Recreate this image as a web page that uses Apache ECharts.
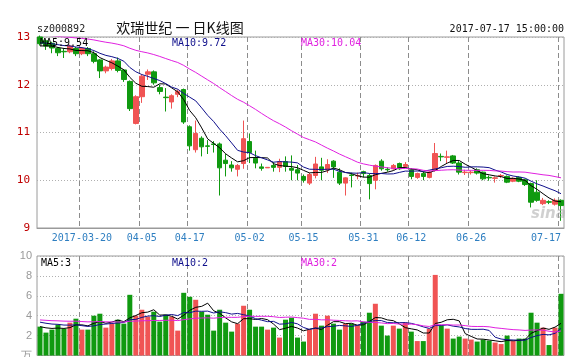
<!DOCTYPE html>
<html>
<head>
<meta charset="utf-8">
<script src="https://cdn.jsdelivr.net/npm/echarts@6/dist/echarts.min.js"></script>
<style>
html,body{margin:0;padding:0;background:#fff;}
#chart{width:566px;height:357px;}
</style>
</head>
<body>
<div id="chart"></div>
<script>
// ---- data ----
const dates = [
 '2017-03-09','2017-03-10','2017-03-13','2017-03-14','2017-03-15','2017-03-16','2017-03-17','2017-03-20','2017-03-21','2017-03-22',
 '2017-03-23','2017-03-24','2017-03-27','2017-03-28','2017-03-29','2017-03-30','2017-03-31','2017-04-05','2017-04-06','2017-04-07',
 '2017-04-10','2017-04-11','2017-04-12','2017-04-13','2017-04-14','2017-04-17','2017-04-18','2017-04-19','2017-04-20','2017-04-21',
 '2017-04-24','2017-04-25','2017-04-26','2017-04-27','2017-04-28','2017-05-02','2017-05-03','2017-05-04','2017-05-05','2017-05-08',
 '2017-05-09','2017-05-10','2017-05-11','2017-05-12','2017-05-15','2017-05-16','2017-05-17','2017-05-18','2017-05-19','2017-05-22',
 '2017-05-23','2017-05-24','2017-05-25','2017-05-26','2017-05-31','2017-06-01','2017-06-02','2017-06-05','2017-06-06','2017-06-07',
 '2017-06-08','2017-06-09','2017-06-12','2017-06-13','2017-06-14','2017-06-15','2017-06-16','2017-06-19','2017-06-20','2017-06-21',
 '2017-06-22','2017-06-23','2017-06-26','2017-06-27','2017-06-28','2017-06-29','2017-06-30','2017-07-03','2017-07-04','2017-07-05',
 '2017-07-06','2017-07-07','2017-07-10','2017-07-11','2017-07-12','2017-07-13','2017-07-14','2017-07-17'
];
const opens = [
 13.00,12.92,12.87,12.76,12.70,12.69,12.76,12.65,12.76,12.65,
 12.52,12.29,12.34,12.50,12.31,12.07,11.19,11.75,12.22,12.27,
 11.94,11.74,11.64,11.80,11.90,11.12,10.64,10.88,10.72,10.76,
 10.76,10.42,10.32,10.23,10.35,10.81,10.46,10.28,10.26,10.31,
 10.27,10.39,10.25,10.22,10.08,9.94,10.10,10.28,10.22,10.40,
 10.17,9.94,10.11,10.09,10.18,10.10,10.00,10.40,10.23,10.24,
 10.35,10.29,10.22,10.06,10.14,10.06,10.21,10.50,10.48,10.51,
 10.36,10.16,10.16,10.22,10.17,10.06,10.04,10.09,10.08,9.98,
 10.06,10.01,9.93,9.75,9.51,9.55,9.50,9.58
];
const closes = [
 12.86,12.81,12.77,12.67,12.69,12.81,12.65,12.76,12.65,12.49,
 12.29,12.37,12.50,12.30,12.11,11.50,11.75,12.18,12.27,12.04,
 11.86,11.73,11.77,11.86,11.22,10.72,10.98,10.70,10.71,10.75,
 10.26,10.35,10.26,10.31,10.87,10.58,10.36,10.25,10.27,10.27,
 10.39,10.29,10.21,10.15,10.00,10.12,10.34,10.21,10.33,10.28,
 9.94,10.05,10.10,10.10,10.14,9.93,10.31,10.24,10.22,10.31,
 10.24,10.33,10.08,10.14,10.08,10.17,10.56,10.49,10.49,10.36,
 10.17,10.17,10.17,10.15,10.03,10.05,10.05,10.10,9.96,10.04,
 9.98,9.91,9.54,9.58,9.58,9.54,9.58,9.47
];
const lows = [
 12.82,12.73,12.66,12.60,12.56,12.66,12.60,12.62,12.60,12.45,
 12.14,12.24,12.30,12.26,12.06,11.45,11.17,11.62,12.10,12.00,
 11.80,11.44,11.50,11.74,11.18,10.62,10.58,10.50,10.55,10.58,
 9.68,10.08,10.18,10.08,10.24,10.36,10.25,10.20,10.26,10.18,
 10.17,10.18,10.00,10.00,9.95,9.90,10.04,10.00,10.15,10.05,
 9.90,9.68,9.85,10.02,10.06,9.60,9.81,10.20,10.18,10.22,
 10.22,10.26,10.02,10.03,10.00,10.04,10.18,10.40,10.36,10.34,
 10.12,10.11,10.12,10.12,10.00,9.99,9.95,10.05,9.94,9.96,
 9.96,9.88,9.43,9.55,9.48,9.50,9.47,9.15
];
const highs = [
 13.03,12.95,12.90,12.79,12.77,12.84,12.79,12.79,12.79,12.70,
 12.54,12.40,12.54,12.57,12.33,12.09,11.78,12.22,12.32,12.30,
 12.00,11.93,11.80,11.90,11.92,11.15,11.25,10.92,10.84,10.82,
 10.79,10.55,10.40,10.34,11.25,10.98,10.62,10.35,10.27,10.38,
 10.45,10.50,10.52,10.32,10.12,10.16,10.49,10.47,10.44,10.42,
 10.25,10.06,10.16,10.16,10.20,10.14,10.33,10.44,10.27,10.34,
 10.37,10.38,10.25,10.16,10.18,10.19,10.78,10.56,10.62,10.53,
 10.40,10.22,10.20,10.25,10.18,10.10,10.08,10.13,10.10,10.06,
 10.08,10.03,9.95,10.00,9.63,9.58,9.62,9.60
];
// volume, in 万 (10k)
const volumes = [
 2.9,2.3,2.6,3.1,2.7,3.3,3.7,2.6,2.6,4.0,
 4.2,2.8,3.2,3.6,3.2,6.1,4.0,4.6,3.9,4.4,
 3.4,4.1,3.9,2.5,6.3,5.9,5.6,4.4,4.1,2.5,
 4.6,3.3,2.4,3.2,5.0,4.6,2.9,2.9,2.6,2.8,
 1.8,3.6,3.8,1.8,1.4,2.6,4.2,3.0,4.0,3.2,
 2.6,3.2,3.2,3.0,3.4,4.3,5.2,3.0,2.0,3.0,
 2.7,3.3,2.4,1.45,1.45,2.7,8.1,3.0,2.7,1.7,
 1.9,1.7,1.6,1.4,1.6,1.5,1.3,1.15,2.0,1.45,
 1.7,1.7,4.3,3.3,2.8,1.05,2.8,6.2
];
// dates shown as x-axis labels
const labelDates = ['2017-03-20','2017-04-05','2017-04-17','2017-05-02','2017-05-15','2017-05-31','2017-06-12','2017-06-26','2017-07-17'];
// moving-average periods and the levels the MA lines start from at the left edge
const maPeriods = [5, 10, 30];
const priceMaStart = [12.80, 12.88, 13.05];
const volMaStart = [2.9, 3.4, 3.6];
const priceMaLabels = ['MA5:9.54', 'MA10:9.72', 'MA30:10.04'];
const volMaLabels = ['MA5:3', 'MA10:2', 'MA30:2'];
const priceTicks = {min: 9, max: 13, interval: 1};
const volTicks = {min: 0, max: 10, interval: 2};
const stockCode = 'sz000892';
const chartTitle = '欢瑞世纪 一 日K线图';
const timeStamp = '2017-07-17 15:00:00';

// ---- chart ----
const UP = '#f05454', DOWN = '#109a10';
const maColors = ['#000000', '#10108c', '#e020e0'];
const MONO = '"DejaVu Sans Mono", "Liberation Mono", monospace';
const DATE_LINE = '#8c8c8c';

function movingAvg(arr, n, start) {
  return arr.map(function (_, i) {
    let s = 0;
    for (let j = i - n + 1; j <= i; j++) s += (j >= 0 ? arr[j] : start);
    return +(s / n).toFixed(4);
  });
}

const isLabelIdx = function (index) { return labelDates.indexOf(dates[index]) >= 0; };
const labelIdx = labelDates.map(function (d) { return dates.indexOf(d); });

const kData = dates.map(function (d, i) { return [opens[i], closes[i], lows[i], highs[i]]; });

// vertical dashed date lines at the left edge of each labelled day's slot
function dateLines(xAxisIndex, yAxisIndex, ticks) {
  return {
    type: 'custom', xAxisIndex: xAxisIndex, yAxisIndex: yAxisIndex, silent: true, z: 1, clip: false,
    data: labelIdx.map(function (k) { return [k, ticks.min]; }),
    renderItem: function (params, api) {
      const p = api.coord([api.value(0), ticks.min]);
      const band = api.size([1, 0])[0];
      const x = Math.round(p[0] - band / 2) + 0.5;
      const cs = params.coordSys;
      return {
        type: 'line',
        shape: {x1: x, y1: cs.y, x2: x, y2: cs.y + cs.height},
        style: {stroke: DATE_LINE, lineWidth: 1, lineDash: [5, 3]}
      };
    }
  };
}

const series = [dateLines(0, 0, priceTicks), dateLines(1, 1, volTicks), {
  type: 'candlestick', xAxisIndex: 0, yAxisIndex: 0, data: kData, barWidth: 5, z: 3,
  itemStyle: {color: UP, color0: DOWN, borderColor: UP, borderColor0: DOWN, borderWidth: 1}
}];
maPeriods.forEach(function (p, m) {
  series.push({type: 'line', xAxisIndex: 0, yAxisIndex: 0, data: movingAvg(closes, p, priceMaStart[m]),
    showSymbol: false, symbol: 'none', lineStyle: {width: 1, color: maColors[m]}, z: 5});
});
series.push({
  type: 'bar', xAxisIndex: 1, yAxisIndex: 1, barWidth: 5, z: 3,
  data: volumes.map(function (v, i) {
    return {value: v, itemStyle: {color: closes[i] >= opens[i] ? UP : DOWN}};
  })
});
maPeriods.forEach(function (p, m) {
  series.push({type: 'line', xAxisIndex: 1, yAxisIndex: 1, data: movingAvg(volumes, p, volMaStart[m]),
    showSymbol: false, symbol: 'none', lineStyle: {width: 1, color: maColors[m]}, z: 5});
});

const dottedSplit = {show: true, lineStyle: {color: '#b0b0b0', type: [1, 2], width: 1}};

function txt(x, y, text, fill, font, align) {
  return {type: 'text', x: x, y: y, z: 100, silent: true,
    style: {text: text, fill: fill, font: font, textAlign: align || 'left', textVerticalAlign: 'middle'}};
}

const graphics = [
  txt(37, 29, stockCode, '#222', '10px ' + MONO),
  txt(180, 28, chartTitle, '#111', '14px "Noto Sans CJK SC", sans-serif', 'center'),
  txt(564, 29, timeStamp, '#111', '10px ' + MONO, 'right'),
  txt(40, 43, priceMaLabels[0], maColors[0], '10px ' + MONO),
  txt(172, 43, priceMaLabels[1], maColors[1], '10px ' + MONO),
  txt(301, 43, priceMaLabels[2], maColors[2], '10px ' + MONO),
  txt(41, 263, volMaLabels[0], maColors[0], '10px ' + MONO),
  txt(172, 263, volMaLabels[1], maColors[1], '10px ' + MONO),
  txt(301, 263, volMaLabels[2], maColors[2], '10px ' + MONO),
  txt(531, 214, 'sina', 'rgba(170,170,170,0.55)', 'italic bold 15px "DejaVu Sans", sans-serif')
];

const chart = echarts.init(document.getElementById('chart'), null, {renderer: 'canvas'});
chart.setOption({
  animation: false,
  backgroundColor: '#ffffff',
  grid: [
    {left: 37, top: 37, width: 527, height: 191, show: true, borderColor: '#9a9a9a', borderWidth: 1,
      backgroundColor: 'transparent', containLabel: false, outerBoundsMode: 'none'},
    {left: 37, top: 256, width: 527, height: 99.5, show: true, borderColor: '#9a9a9a', borderWidth: 1,
      backgroundColor: 'transparent', containLabel: false, outerBoundsMode: 'none'}
  ],
  xAxis: [
    {type: 'category', gridIndex: 0, data: dates, boundaryGap: true,
      axisLine: {show: true, lineStyle: {color: '#9a9a9a'}}, axisTick: {show: false},
      axisLabel: {show: true, interval: isLabelIdx, margin: 5, color: '#2f7fc1', fontFamily: MONO, fontSize: 10,
        hideOverlap: false, alignMaxLabel: 'right',
        formatter: function (v) { return v === labelDates[0] ? v : v.slice(5); }},
      splitLine: {show: false}},
    {type: 'category', gridIndex: 1, data: dates, boundaryGap: true,
      axisLine: {show: false}, axisTick: {show: false}, axisLabel: {show: false},
      splitLine: {show: false}}
  ],
  yAxis: [
    {type: 'value', gridIndex: 0, min: priceTicks.min, max: priceTicks.max, interval: priceTicks.interval,
      axisLine: {show: false}, axisTick: {show: false},
      axisLabel: {color: '#c00000', fontFamily: MONO, fontSize: 11, margin: 7},
      splitLine: dottedSplit},
    {type: 'value', gridIndex: 1, min: volTicks.min, max: volTicks.max, interval: volTicks.interval,
      axisLine: {show: false}, axisTick: {show: false},
      axisLabel: {color: '#999999', fontFamily: '"Liberation Sans", Arial, sans-serif', fontSize: 11, margin: 5,
        formatter: function (v) { return v === 0 ? '万' : String(v); }},
      splitLine: dottedSplit}
  ],
  series: series,
  graphic: graphics
});
</script>
</body>
</html>
